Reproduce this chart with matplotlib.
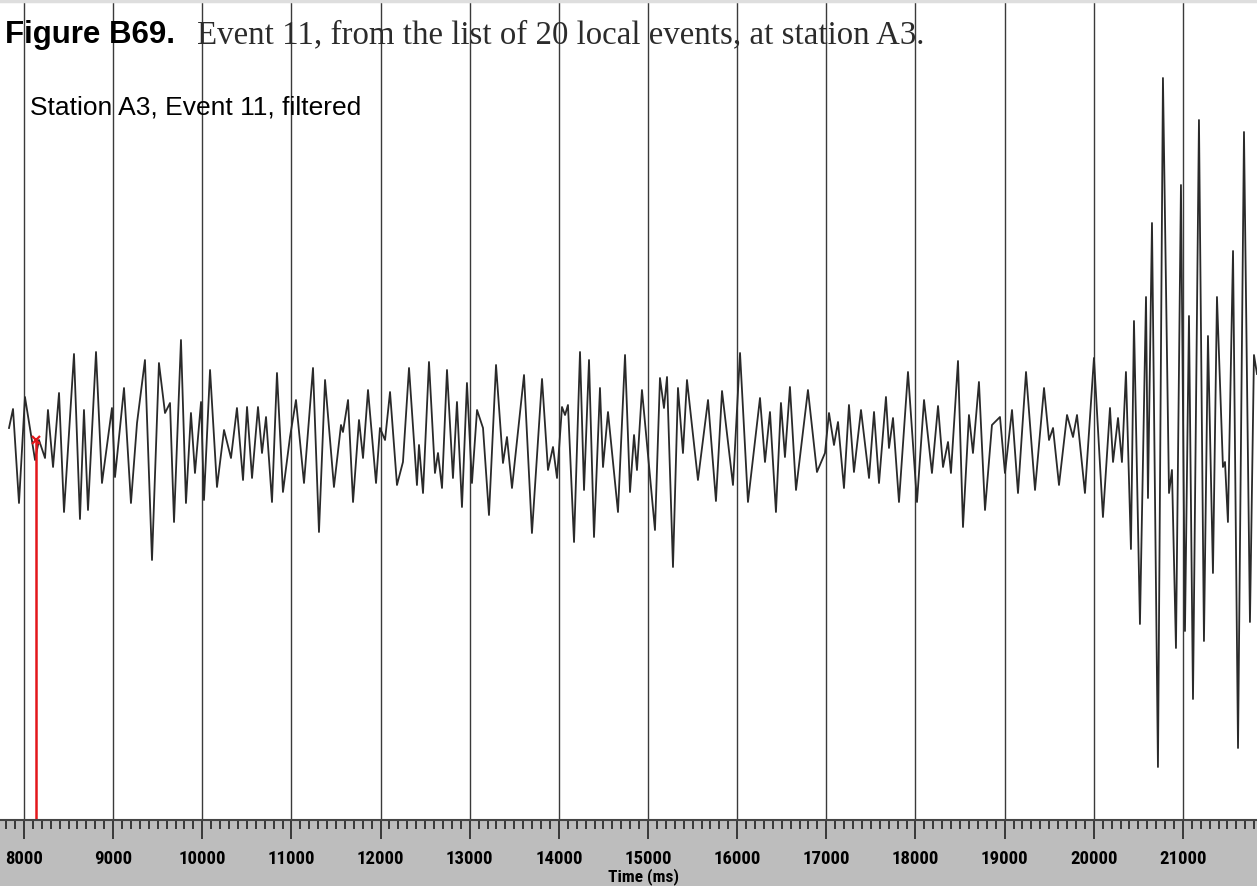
import matplotlib
matplotlib.use("Agg")
import matplotlib.pyplot as plt
from matplotlib.ticker import MultipleLocator

# turning points of the filtered trace (time ms, counts)
t_ms = [7832, 7877, 7944, 8011, 8124, 8168, 8236, 8269, 8326, 8393, 8449, 8561, 8628, 8673, 8718,
        8808, 8875, 8987, 9021, 9122, 9200, 9268, 9357, 9436, 9514, 9582, 9638, 9683, 9761, 9817,
        9873, 9918, 9986, 10019, 10087, 10165, 10244, 10322, 10389, 10457, 10502, 10558, 10625, 10670,
        10715, 10782, 10838, 10905, 10984, 11051, 11141, 11242, 11309, 11377, 11477, 11556, 11578,
        11635, 11691, 11758, 11803, 11859, 11949, 11993, 12050, 12106, 12184, 12251, 12319, 12408,
        12431, 12476, 12543, 12610, 12644, 12689, 12745, 12812, 12857, 12913, 12969, 13025, 13082,
        13149, 13216, 13295, 13373, 13418, 13474, 13609, 13698, 13811, 13878, 13934, 13979, 14035,
        14069, 14102, 14170, 14237, 14282, 14338, 14394, 14461, 14495, 14551, 14663, 14742, 14798,
        14843, 14876, 14932, 15078, 15134, 15179, 15213, 15280, 15336, 15392, 15437, 15560, 15673,
        15762, 15830, 15953, 16032, 16121, 16256, 16312, 16368, 16435, 16491, 16536, 16592, 16660,
        16794, 16895, 16985, 17030, 17086, 17131, 17198, 17254, 17310, 17389, 17479, 17535, 17591,
        17669, 17703, 17748, 17815, 17916, 18017, 18096, 18185, 18253, 18309, 18365, 18398, 18477,
        18533, 18600, 18645, 18712, 18780, 18858, 18948, 19004, 19083, 19150, 19240, 19341, 19442,
        19498, 19543, 19610, 19700, 19767, 19812, 19901, 20002, 20103, 20182, 20216, 20272, 20316,
        20361, 20417, 20451, 20518, 20586, 20608, 20653, 20720, 20776, 20844, 20877, 20922, 20978,
        21023, 21068, 21113, 21180, 21236, 21281, 21337, 21382, 21449, 21472, 21505, 21562, 21618,
        21685, 21752, 21797, 21831]
amp = [17, 36, -58, 48, -15, 5, -13, 35, -22, 52, -67, 91, -74, 35, -65,
       93, -38, 37, -32, 57, -58, 22, 85, -115, 82, 32, 42, -77, 105, -58,
       32, -28, 43, -55, 75, -42, 15, -13, 37, -35, 38, -33, 38, -8,
       28, -57, 72, -47, 8, 45, -38, 77, -87, 65, -42, 20, 13,
       45, -57, 25, -13, 55, -38, 17, 5, 53, -40, -17, 77, -40,
       0, -48, 83, -28, -8, -43, 75, -33, 43, -62, 62, -38, 35,
       17, -70, 80, -18, 8, -43, 70, -88, 66, -25, -2, -33, 38,
       30, 40, -97, 93, -45, 85, -92, 57, -22, 33, -67, 90, -47,
       10, -25, 55, -85, 67, 37, 68, -122, 57, -8, 65, -35, 45,
       -56, 54, -40, 92, -57, 47, -17, 33, -67, 42, -12, 58, -45,
       55, -27, -8, 32, 0, 23, -43, 40, -27, 35, -33, 33, -38,
       48, -3, 27, -57, 73, -57, 45, -28, 39, -22, 3, -28, 84,
       -82, 30, -8, 63, -65, 20, 28, -28, 35, -48, 73, -45, 57,
       5, 17, -40, 30, 8, 30, -48, 87, -72, 37, -17, 27, -17,
       73, -104, 124, -179, 148, -53, 222, -322, 367, -48, -25, -203, 260,
       -186, 129, -254, 325, -196, 109, -128, 148, -22, -17, -77, 194, -303,
       313, -177, 90, 71]

pick_t, pick_a = 8135, 5          # P pick
grid_ms = [8000, 9000, 10000, 11000, 12000, 13000, 14000, 15000, 16000, 17000,
           18000, 19000, 20000, 21000]
tick_lab = ["8000", "9000", "10000", "11000", "12000", "13000", "14000", "15000",
            "16000", "17000", "18000", "19000", "20000", "21000"]

XLIM, YLIM = (7731, 21831), (-375, 445)
INK, RED, BAR = "#2a2a2a", "#e3171b", "#bdbdbd"
NARROW = ["Liberation Sans Narrow", "Roboto Condensed", "Roboto", "DejaVu Sans"]

W, H = 1257, 886
fig = plt.figure(figsize=(W/100, H/100), dpi=100, facecolor="white")

ax = fig.add_axes([0, 66/H, 1, 820/H])
ax.plot(t_ms, amp, color=INK, lw=1.3, zorder=3)
ax.set_xlim(*XLIM); ax.set_ylim(*YLIM)
ax.set_xticks(grid_ms); ax.set_yticks([])
ax.tick_params(length=0, labelbottom=False)
ax.grid(axis="x", color="#3a3a3a", lw=1.0)
for sp in ax.spines.values(): sp.set_visible(False)
frac = (pick_a-YLIM[0])/(YLIM[1]-YLIM[0])
ax.axvline(pick_t, ymin=0, ymax=frac, color=RED, lw=1.8, zorder=4)
ax.plot([pick_t], [pick_a], marker="x", ms=6, mew=1.6, color=RED, zorder=5)

bx = fig.add_axes([0, 0, 1, 66/H], facecolor=BAR)
bx.set_xlim(*XLIM); bx.set_yticks([])
bx.set_xticks(grid_ms, labels=tick_lab, fontsize=13.5, fontweight="bold", family=NARROW)
bx.xaxis.set_minor_locator(MultipleLocator(100))
bx.tick_params(axis="x", which="both", direction="in", top=True, bottom=False,
               labelbottom=True, color="#222222", width=1.2)
bx.tick_params(axis="x", which="major", length=14, pad=-26)
bx.tick_params(axis="x", which="minor", length=6.5)
for s in ("left", "right", "bottom"): bx.spines[s].set_visible(False)
bx.spines["top"].set_color("#444444"); bx.spines["top"].set_linewidth(1.5)
bx.set_xlabel("Time (ms)", fontsize=12.5, fontweight="bold", family=NARROW)
bx.xaxis.set_label_coords(0.512, 0.27)

fig.add_artist(plt.Line2D([0, 1], [1-1/H, 1-1/H], transform=fig.transFigure, color="#dedede", lw=2.5))
fig.text(5/W, 1-43/H, "Figure B69.", fontsize=22.5, fontweight="bold",
         family=["Liberation Sans", "DejaVu Sans"], va="baseline")
fig.text(197/W, 1-43/H, "Event 11, from the list of 20 local events, at station A3.",
         fontsize=23.7, family=["Liberation Serif", "DejaVu Serif"], color="#2b2b2b", va="baseline")
fig.text(30/W, 1-115/H, "Station A3, Event 11, filtered", fontsize=19,
         family=["Liberation Sans", "DejaVu Sans"], va="baseline")

fig.savefig("out.png", dpi=100, facecolor="white")
